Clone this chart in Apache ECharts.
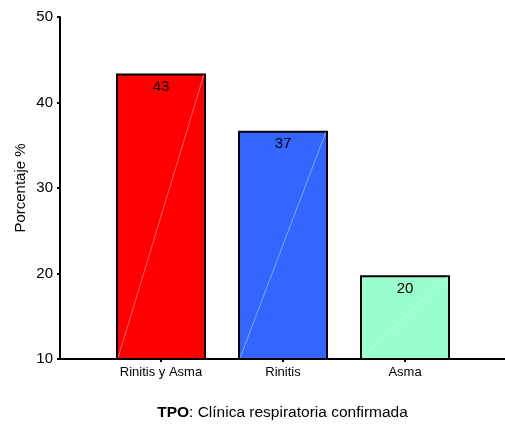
<!DOCTYPE html>
<html>
<head>
<meta charset="utf-8">
<script src="https://cdn.jsdelivr.net/npm/echarts@6/dist/echarts.min.js"></script>
<style>html,body{margin:0;padding:0;background:#fff}#c{width:505px;height:424px}</style>
</head>
<body>
<div id="c"></div>
<script>
var categories = ['Rinitis y Asma', 'Rinitis', 'Asma'];
var values = [43.4, 36.7, 19.8];
var valueLabels = ['43', '37', '20'];
var barColors = ['#ff0000', '#3366ff', '#99ffcc'];
var yTicks = [10, 20, 30, 40, 50];

var FONT = '"Liberation Sans", Arial, sans-serif';
var chart = echarts.init(document.getElementById('c'));
chart.setOption({
  animation: false,
  backgroundColor: '#fff',
  textStyle: {fontFamily: FONT},
  grid: [
    {left: 100, width: 366, top: 17, bottom: 65, containLabel: false, outerBoundsMode: 'none'},
    {left: 60, right: 0, top: 17, bottom: 65, containLabel: false, outerBoundsMode: 'none'}
  ],
  xAxis: [
    {type: 'category', gridIndex: 0, data: categories,
     axisLine: {show: false},
     axisTick: {show: true, alignWithLabel: true, length: 3, lineStyle: {color: '#000', width: 2}},
     axisLabel: {color: '#000', fontSize: 13, margin: 7, fontFamily: FONT}},
    {type: 'value', gridIndex: 1, min: 0, max: 1,
     axisLine: {show: true, lineStyle: {color: '#000', width: 2}},
     axisTick: {show: false}, axisLabel: {show: false}, splitLine: {show: false},
     name: '{b|TPO}{n|: Clínica respiratoria confirmada}',
     nameLocation: 'middle', nameGap: 46, nameMoveOverlap: false,
     nameTextStyle: {rich: {
       b: {fontWeight: 'bold', fontSize: 15.5, color: '#000', fontFamily: FONT},
       n: {fontSize: 15.5, color: '#000', fontFamily: FONT}
     }}}
  ],
  yAxis: [
    {type: 'value', gridIndex: 0, min: yTicks[0], max: yTicks[yTicks.length - 1], interval: 10, show: false},
    {type: 'value', gridIndex: 1, min: yTicks[0], max: yTicks[yTicks.length - 1], interval: 10,
     axisLine: {show: true, lineStyle: {color: '#000', width: 2}},
     axisTick: {show: true, length: 3, lineStyle: {color: '#000', width: 2}},
     axisLabel: {color: '#000', fontSize: 15, margin: 7, fontFamily: FONT},
     splitLine: {show: false},
     name: 'Porcentaje %', nameLocation: 'middle', nameGap: 32, nameMoveOverlap: false,
     nameTextStyle: {fontSize: 15, color: '#000', fontFamily: FONT}}
  ],
  series: [
    {type: 'bar', xAxisIndex: 0, yAxisIndex: 0, barWidth: 90,
     data: values.map(function (v, i) {
       return {value: v, itemStyle: {color: barColors[i]}};
     }),
     itemStyle: {borderColor: '#000', borderWidth: 2},
     label: {show: true, position: 'insideTop', distance: 6, color: '#000', fontSize: 15, fontFamily: FONT,
       formatter: function (p) { return valueLabels[p.dataIndex]; }},
     z: 2},
    {type: 'custom', xAxisIndex: 0, yAxisIndex: 0, z: 3, silent: true,
     data: values.map(function (v, i) { return [i, v]; }),
     renderItem: function (params, api) {
       var top = api.coord([api.value(0), api.value(1)]);
       var base = api.coord([api.value(0), yTicks[0]]);
       var hw = 44;
       return {type: 'line', shape: {x1: top[0] - hw + 1, y1: base[1] - 1, x2: top[0] + hw - 1, y2: top[1] + 1},
         style: {stroke: 'rgba(255,255,255,0.4)', lineWidth: 1}};
     }}
  ]
});
</script>
</body>
</html>
